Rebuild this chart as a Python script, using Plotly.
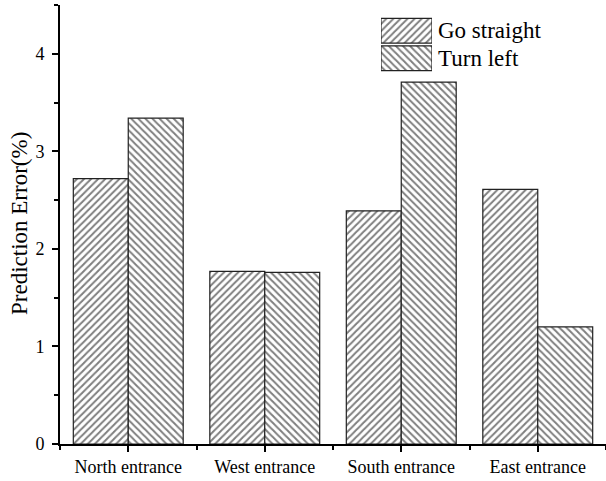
import plotly.graph_objects as go

# Prediction error per entrance and movement
entrances = ["North entrance", "West entrance", "South entrance", "East entrance"]
go_straight = [2.72, 1.77, 2.39, 2.61]
turn_left = [3.34, 1.76, 3.71, 1.20]
series_names = ["Go straight", "Turn left"]
hatches = ["/", "\\"]
y_ticks = [0, 1, 2, 3, 4]
y_title = "Prediction Error(%)"

FONT = "Liberation Serif"
INK = "#000000"

positions = list(range(len(entrances)))


def hatch(shape):
    return dict(shape=shape, fgcolor="#000000", bgcolor="white",
                size=5, solidity=0.4, fillmode="overlay")


fig = go.Figure()
for name, vals, shp in zip(series_names, [go_straight, turn_left], hatches):
    fig.add_trace(go.Bar(
        x=positions, y=vals, name=name, showlegend=False,
        marker=dict(color="white", pattern=hatch(shp),
                    line=dict(color="#222222", width=1.2)),
        xaxis="x", yaxis="y",
    ))

# Key swatches drawn as wide hatched bars on a small inset axis pair
fig.add_trace(go.Bar(
    x=[1, 1], y=[1, 0], orientation="h", width=0.9, showlegend=False,
    marker=dict(color="white", pattern=dict(shape=hatches, fgcolor="#000000",
                                            bgcolor="white", size=5,
                                            solidity=0.4, fillmode="overlay"),
                line=dict(color="#222222", width=1.2)),
    xaxis="x2", yaxis="y2", hoverinfo="skip",
))
for i, name in enumerate(series_names):
    fig.add_annotation(x=1, y=1 - i, xref="x2", yref="y2", text=name,
                       showarrow=False, xanchor="left", yanchor="middle",
                       xshift=4, font=dict(family=FONT, size=23, color=INK))

W, H = 606, 481
ML, MR, MT, MB = 60, 0, 5, 37
pw, ph = W - ML - MR, H - MT - MB


def px_x(px):
    return (px - ML) / pw


def px_y(py):
    return (H - MB - py) / ph


# Vertical axis title placed as rotated text left of the tick labels
fig.add_annotation(x=px_x(20), y=px_y(224), xref="paper", yref="paper",
                   text=y_title, textangle=-90, showarrow=False,
                   xanchor="center", yanchor="middle",
                   font=dict(family=FONT, size=23, color=INK))

axis_common = dict(showline=True, linecolor=INK, linewidth=1.8, ticks="outside",
                   tickcolor=INK, tickwidth=1.5, ticklen=6, showgrid=False,
                   zeroline=False, mirror=False,
                   tickfont=dict(family=FONT, size=18, color=INK))

fig.update_layout(
    width=W, height=H,
    margin=dict(l=ML, r=MR, t=MT, b=MB),
    paper_bgcolor="white", plot_bgcolor="white",
    barmode="group", bargap=0.195, bargroupgap=0,
    font=dict(family=FONT, color=INK),
    showlegend=False,
    xaxis=dict(range=[-0.5, 3.5], tickvals=positions, ticktext=entrances,
               minor=dict(tickvals=[-0.5, 0.5, 1.5, 2.5, 3.5], ticks="outside",
                          ticklen=4, tickwidth=1.5, tickcolor=INK),
               ticklabelstandoff=-1, **axis_common),
    yaxis=dict(range=[0, 4.5], tickvals=y_ticks,
               minor=dict(dtick=0.5, ticks="outside", ticklen=4,
                          tickwidth=1.5, tickcolor=INK),
               ticklabelstandoff=4, **axis_common),
    xaxis2=dict(domain=[px_x(381), px_x(432)], range=[0, 1], visible=False,
                anchor="y2", fixedrange=True),
    yaxis2=dict(domain=[px_y(72), px_y(17)], range=[-0.5, 1.5], visible=False,
                anchor="x2", fixedrange=True),
)

fig.write_html("out.html")
